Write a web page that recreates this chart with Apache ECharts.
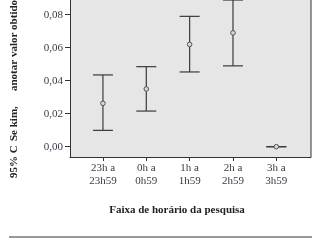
<!DOCTYPE html>
<html><head><meta charset="utf-8">
<script src="https://cdn.jsdelivr.net/npm/echarts@6/dist/echarts.min.js"></script>
<style>html,body{margin:0;padding:0;background:#fff}#c{width:320px;height:240px}</style>
</head><body><div id="c"></div>
<script>
var categories = ['23h a\n23h59', '0h a\n0h59', '1h a\n1h59', '2h a\n2h59', '3h a\n3h59'];
var means = [0.0263, 0.0350, 0.0620, 0.0690, 0.0];
var lows = [0.0099, 0.0216, 0.0453, 0.0490, 0.0];
var highs = [0.0435, 0.0485, 0.0790, 0.0889, 0.0];
var yTicks = [0, 0.02, 0.04, 0.06, 0.08, 0.10];
var xTicks = [0, 1, 2, 3, 4];

var data = categories.map(function (c, i) { return [i, means[i], lows[i], highs[i]]; });
var chart = echarts.init(document.getElementById('c'));
var serif = 'Liberation Serif';
var titleStyle = { fontFamily: serif, fontWeight: 'bold', fontSize: 11, fill: '#222', textAlign: 'left', textVerticalAlign: 'middle' };
function yTitle(text, y) {
  return { type: 'text', x: 14, y: y, rotation: Math.PI / 2, style: Object.assign({ text: text }, titleStyle) };
}
chart.setOption({
  animation: false,
  grid: { left: 70, right: 9, top: -18.3, bottom: 83, show: true, backgroundColor: '#e6e6e6', borderWidth: 0,
    outerBoundsMode: 'none', containLabel: false },
  xAxis: {
    type: 'value', min: -0.76, max: 4.8,
    splitLine: { show: false },
    axisLine: { show: true, onZero: false, lineStyle: { color: '#333', width: 1 } },
    axisTick: { show: true, customValues: xTicks, length: 4, lineStyle: { color: '#333' } },
    axisLabel: { customValues: xTicks, formatter: function (v) { return categories[Math.round(v)]; },
      fontFamily: serif, fontSize: 11, color: '#3a3a48', lineHeight: 13, margin: 5 }
  },
  yAxis: {
    type: 'value', min: -0.00624, max: 0.1,
    splitLine: { show: false },
    axisLine: { show: true, onZero: false, lineStyle: { color: '#333', width: 1 } },
    axisTick: { show: true, customValues: yTicks, length: 5, lineStyle: { color: '#333' } },
    axisLabel: { customValues: yTicks, formatter: function (v) { return v.toFixed(2).replace('.', ','); },
      fontFamily: serif, fontSize: 11, color: '#3a3a48', margin: 7 }
  },
  series: [{
    type: 'custom',
    data: data,
    renderItem: function (params, api) {
      var x = api.value(0);
      var pm = api.coord([x, api.value(1)]);
      var pl = api.coord([x, api.value(2)]);
      var ph = api.coord([x, api.value(3)]);
      var hw = 10;
      var st = { stroke: '#3a3a3a', lineWidth: 1.2 };
      return { type: 'group', children: [
        { type: 'line', shape: { x1: pl[0], y1: pl[1], x2: ph[0], y2: ph[1] }, style: st },
        { type: 'line', shape: { x1: pl[0] - hw, y1: pl[1], x2: pl[0] + hw, y2: pl[1] }, style: st },
        { type: 'line', shape: { x1: ph[0] - hw, y1: ph[1], x2: ph[0] + hw, y2: ph[1] }, style: st },
        { type: 'circle', shape: { cx: pm[0], cy: pm[1], r: 2.3 }, style: { fill: '#d8d8d8', stroke: '#555', lineWidth: 1 } }
      ]};
    }
  }],
  graphic: [
    { type: 'line', shape: { x1: 311, y1: 0, x2: 311, y2: 157 }, style: { stroke: '#333', lineWidth: 1 } },
    yTitle('95% C', 178),
    yTitle('Se kim,', 141),
    yTitle('anotar valor obtido', 91),
    { type: 'text', x: 177, y: 210,
      style: { text: 'Faixa de horário da pesquisa', fontFamily: serif, fontWeight: 'bold', fontSize: 11,
        fill: '#222', textAlign: 'center', textVerticalAlign: 'middle' } },
    { type: 'line', shape: { x1: 9, y1: 237, x2: 312, y2: 237 }, style: { stroke: '#777', lineWidth: 1.5 } }
  ]
});
</script></body></html>
